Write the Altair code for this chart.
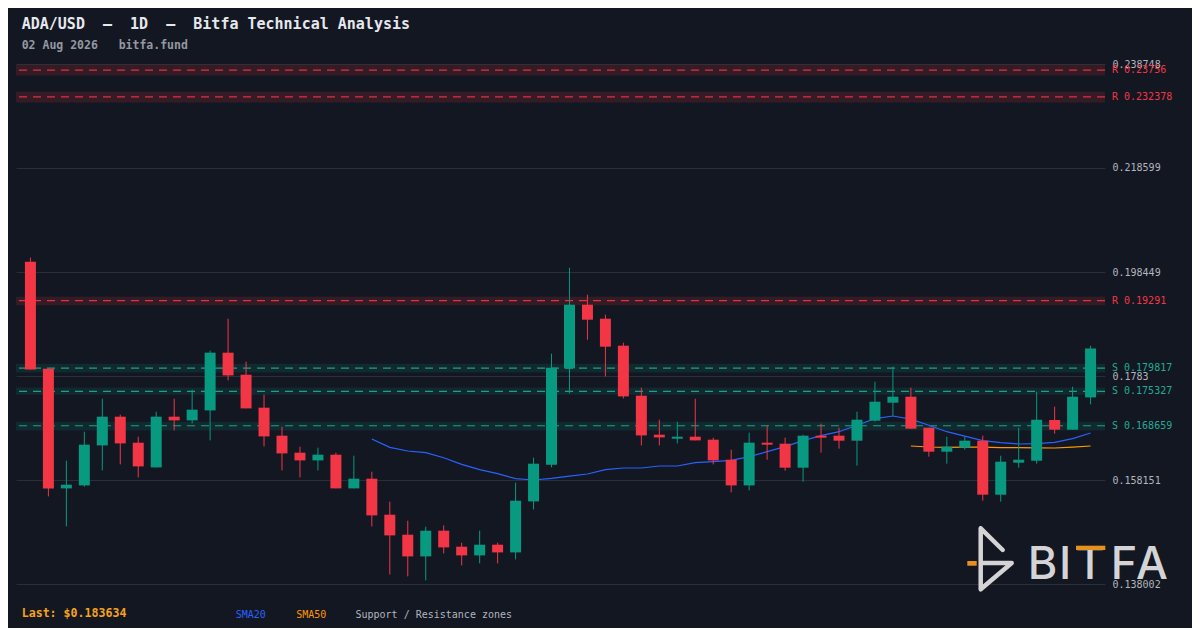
import altair as alt
import pandas as pd

# ---------------- data ----------------
opens = [0.200447, 0.179716, 0.156524, 0.157106, 0.164856, 0.170416, 0.165379, 0.160593, 0.170416, 0.169699,
         0.171637, 0.182816, 0.178554, 0.172160, 0.166735, 0.163441, 0.161949, 0.163054, 0.156524, 0.158404,
         0.151429, 0.147554, 0.143349, 0.148329, 0.145229, 0.143543, 0.145616, 0.144124, 0.154006, 0.161116,
         0.179774, 0.192116, 0.189404, 0.184172, 0.174485, 0.166929, 0.166154, 0.166541, 0.165960, 0.162085,
         0.157106, 0.165379, 0.165185, 0.160535, 0.166735, 0.166735, 0.165766, 0.169641, 0.173129, 0.174291,
         0.168285, 0.163635, 0.164410, 0.165766, 0.155304, 0.161504, 0.161891, 0.169777, 0.167897, 0.174156]
highs = [0.201222, 0.179750, 0.161891, 0.167510, 0.173904, 0.170804, 0.166541, 0.171385, 0.173904, 0.175647,
         0.183204, 0.189404, 0.181072, 0.174679, 0.168479, 0.164604, 0.164410, 0.163441, 0.162860, 0.159760,
         0.153947, 0.150266, 0.149104, 0.149356, 0.146004, 0.148329, 0.146004, 0.157629, 0.162472, 0.182622,
         0.199285, 0.194054, 0.190179, 0.184754, 0.176035, 0.169835, 0.169447, 0.173904, 0.166347, 0.164022,
         0.167316, 0.168672, 0.166347, 0.166929, 0.169060, 0.168285, 0.171385, 0.177197, 0.180104, 0.176035,
         0.168285, 0.166541, 0.166541, 0.166735, 0.162860, 0.168285, 0.175260, 0.172354, 0.176229, 0.184150]
lows = [0.179581, 0.154974, 0.149162, 0.156854, 0.160012, 0.161174, 0.158656, 0.160593, 0.167762, 0.169118,
        0.165824, 0.177449, 0.172024, 0.164662, 0.160012, 0.158656, 0.160012, 0.156524, 0.156524, 0.149162,
        0.139862, 0.139474, 0.138699, 0.143931, 0.141606, 0.141993, 0.141993, 0.142768, 0.152456, 0.160593,
        0.174931, 0.185335, 0.178224, 0.173962, 0.164856, 0.164856, 0.165243, 0.165824, 0.161174, 0.155749,
        0.156137, 0.162085, 0.159954, 0.157822, 0.163441, 0.164216, 0.160922, 0.169447, 0.170610, 0.168091,
        0.162666, 0.161310, 0.164022, 0.154141, 0.153947, 0.160535, 0.161310, 0.167122, 0.167897, 0.172800]
closes = [0.179581, 0.156524, 0.157241, 0.164991, 0.170416, 0.165243, 0.160787, 0.170416, 0.169699, 0.171772,
          0.182816, 0.178418, 0.172024, 0.166599, 0.163306, 0.161949, 0.163054, 0.156524, 0.158404, 0.151293,
          0.147418, 0.143349, 0.148329, 0.145093, 0.143543, 0.145616, 0.144124, 0.154141, 0.161310, 0.179910,
          0.192116, 0.189210, 0.183979, 0.174349, 0.166793, 0.166406, 0.166541, 0.165824, 0.161949, 0.157106,
          0.165379, 0.164991, 0.160535, 0.166735, 0.166347, 0.165766, 0.169835, 0.173322, 0.174291, 0.168091,
          0.163635, 0.164604, 0.165766, 0.155304, 0.161697, 0.162085, 0.169835, 0.167897, 0.174291, 0.183634]

sma20_start = 19
sma20 = [0.166096, 0.164468, 0.163771, 0.163441, 0.162472, 0.161174, 0.160147, 0.159372, 0.158404, 0.158152,
         0.158462, 0.158888, 0.159314, 0.160147, 0.160477, 0.160477, 0.160864, 0.160864, 0.161504, 0.161697,
         0.161949, 0.162666, 0.163635, 0.164604, 0.165766, 0.166735, 0.167510, 0.168769, 0.170029, 0.170552,
         0.169932, 0.168769, 0.167510, 0.166638, 0.165766, 0.165379, 0.165127, 0.165185, 0.165437, 0.166154,
         0.167258]
sma50_start = 49
sma50 = [0.164739, 0.164546, 0.164468, 0.164507, 0.164507, 0.164410, 0.164410, 0.164371, 0.164352, 0.164507,
         0.164739]

zone_kind = ["R", "R", "R", "S", "S", "S"]
zone_level = [0.23756, 0.232378, 0.19291, 0.179817, 0.175327, 0.168659]
zone_low = [0.23654, 0.231312, 0.192000, 0.179000, 0.174679, 0.167762]
zone_high = [0.23858, 0.233385, 0.193666, 0.180685, 0.176094, 0.169448]
zone_text = ["R 0.23756", "R 0.232378", "R 0.19291", "S 0.179817", "S 0.175327", "S 0.168659"]

y_ticks = [0.138002, 0.158151, 0.1783, 0.198449, 0.218599, 0.238748]
y_min, y_max = 0.138002, 0.238748

NB = "\u00a0"
title_text = f"ADA/USD{NB*2}\u2013{NB*2}1D{NB*2}\u2013{NB*2}Bitfa Technical Analysis"
subtitle_text = f"02 Aug 2026{NB*3}bitfa.fund"
last_text = f"Last: ${closes[-1]:.6f}"
legend_items = ["SMA20", "SMA50", "Support / Resistance zones"]

# ---------------- styling ----------------
W, H = 1089, 520
BG = "#131722"
UP, DOWN = "#089981", "#f23645"
TEAL_LINE = "#22ab94"
MONO = "DejaVu Sans Mono"

n = len(opens)
candles = pd.DataFrame({
    "i": list(range(n)), "open": opens, "high": highs, "low": lows, "close": closes,
    "dir": ["up" if c >= o else "down" for o, c in zip(opens, closes)],
})
sma20_df = pd.DataFrame({"i": list(range(sma20_start, sma20_start + len(sma20))), "v": sma20})
sma50_df = pd.DataFrame({"i": list(range(sma50_start, sma50_start + len(sma50))), "v": sma50})
zones = pd.DataFrame({"kind": zone_kind, "level": zone_level, "lo": zone_low, "hi": zone_high, "label": zone_text})

xs = alt.Scale(domain=[-0.525, n - 0.475], nice=False, zero=False)
ys = alt.Scale(domain=[y_min, y_max], nice=False, zero=False)
X = alt.X("i:Q", scale=xs, axis=None)
Y_AX = alt.Axis(
    orient="right", values=y_ticks, format=".6~f", grid=True, gridColor="#2a2e39", gridWidth=1,
    domain=False, ticks=False, tickSize=0, labelPadding=7, labelColor="#b2b5be", labelFont=MONO,
    labelFontSize=10, labelOverlap=False, title=None)


def Y(field):
    return alt.Y(field, scale=ys, axis=Y_AX, title=None)


dir_color = alt.Color("dir:N", scale=alt.Scale(domain=["up", "down"], range=[UP, DOWN]), legend=None)
kind_color = alt.Color("kind:N", scale=alt.Scale(domain=["R", "S"], range=[DOWN, UP]), legend=None)
kind_line = alt.Color("kind:N", scale=alt.Scale(domain=["R", "S"], range=[DOWN, TEAL_LINE]), legend=None)

zone_rects = alt.Chart(zones).mark_rect(opacity=0.15).encode(
    x=alt.value(0), x2=alt.value(W), y=Y("lo:Q"), y2="hi:Q", color=kind_color)

zone_rules = alt.Chart(zones).mark_rule(strokeDash=[8, 6], strokeWidth=1.2, opacity=0.9).encode(
    y=Y("level:Q"), color=kind_line)

zone_labels = alt.Chart(zones).mark_text(align="left", baseline="middle", font=MONO, fontSize=10).encode(
    x=alt.value(W + 7), y=Y("level:Q"), text="label:N", color=kind_line)

wicks = alt.Chart(candles).mark_rule(strokeWidth=1).encode(
    x=X, y=Y("low:Q"), y2="high:Q", color=dir_color)
bodies = alt.Chart(candles).mark_bar(size=11).encode(
    x=X, y=Y("open:Q"), y2="close:Q", color=dir_color)

sma20_line = alt.Chart(sma20_df).mark_line(color="#2962ff", strokeWidth=1.2).encode(x=X, y=Y("v:Q"))
sma50_line = alt.Chart(sma50_df).mark_line(color="#ff9800", strokeWidth=1.2).encode(x=X, y=Y("v:Q"))

one = pd.DataFrame({"k": [0]})


def label(text, x, y, color, size, weight="normal", font=MONO, align="left"):
    return alt.Chart(one).mark_text(text=text, align=align, baseline="alphabetic", font=font,
                                    fontSize=size, fontWeight=weight, color=color).encode(
        x=alt.value(x), y=alt.value(y))


texts = [
    label(title_text, 5.7, -34.7, "#e6e8ee", 15, "bold"),
    label(subtitle_text, 5.7, -15, "#9598a1", 11.5, "bold"),
    label(last_text, 5.7, 553, "#f7a21b", 11.6, "bold"),
    label(legend_items[0], 219.7, 554, "#2962ff", 10),
    label(legend_items[1], 280.2, 554, "#ff9800", 10),
    label(legend_items[2], 339.5, 554, "#b2b5be", 10),
]

# ---------------- watermark logo ----------------
LOGO = "#d4d4d6"
logo_path = "M-0.508,-1 L-0.508,1 M-0.508,-1 L0.213,-0.289 M-0.508,0.128 L0.508,0.138 L-0.508,1"
logo_symbol = alt.Chart(one).mark_point(shape=logo_path, size=3721, filled=False, stroke=LOGO,
                                        strokeWidth=4.5, strokeCap="round", strokeJoin="round",
                                        opacity=1).encode(x=alt.value(980.2), y=alt.value(494.8))
logo_letters = [label(ch, cx, 515, LOGO, 45, 500, "Inter", "center")
                for ch, cx in zip(["B", "I", "T", "F", "A"], [1026.5, 1049, 1074, 1108, 1136])]
logo_bars = alt.Chart(pd.DataFrame({"x": [951.3, 1060], "x2": [960.7, 1089.3],
                                    "y": [497, 481.7], "y2": [501.7, 486]})).mark_rect(color="#e8901c").encode(
    x=alt.X("x:Q", scale=None), x2="x2:Q", y=alt.Y("y:Q", scale=None), y2="y2:Q")

chart = alt.layer(
    zone_rects, zone_rules, logo_symbol, *logo_letters, logo_bars,
    sma50_line, sma20_line, wicks, bodies, zone_labels, *texts
).resolve_scale(color="independent").properties(
    width=W, height=H, background=BG,
    padding={"left": 8, "top": 56, "right": 87, "bottom": 44},
    autosize=alt.AutoSizeParams(type="none"),
    usermeta={"embedOptions": {"defaultStyle": "body { background: #131722; }"}},
).configure_view(stroke=None)

chart.save("out.html", embed_options={"renderer": "svg", "actions": False})
